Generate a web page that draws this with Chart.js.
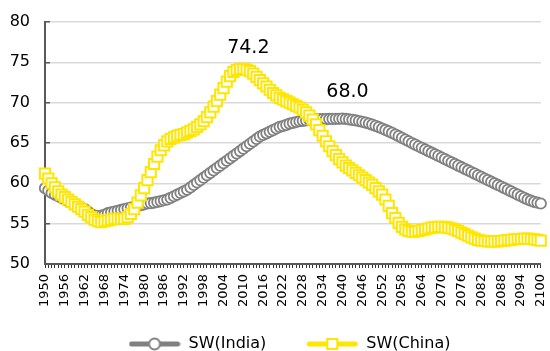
<!DOCTYPE html>
<html>
<head>
<meta charset="utf-8">
<script src="https://cdn.jsdelivr.net/npm/chart.js@4/dist/chart.umd.min.js"></script>
<style>
  html, body { margin: 0; padding: 0; background: #fff; }
  #wrap { width: 550px; height: 351px; position: relative; }
</style>
</head>
<body>
<div id="wrap"><canvas id="chart"></canvas></div>
<script>
// years 1950..2100, one point per year
var years = [];
for (var y = 1950; y <= 2100; y++) years.push(String(y));

var seriesNames = ['SW(India)', 'SW(China)'];

var swIndia = [
  59.4, 59.1, 58.8, 58.6, 58.4, 58.2, 58.0, 57.8, 57.6, 57.4,   // 1950-1959
  57.2, 57.0, 56.8, 56.5, 56.2, 56.0, 55.9, 56.0, 56.1, 56.3,   // 1960-1969
  56.4, 56.5, 56.6, 56.7, 56.8, 56.9, 57.0, 57.1, 57.2, 57.3,   // 1970-1979
  57.4, 57.5, 57.55, 57.6, 57.7, 57.8, 57.9, 58.0, 58.2, 58.4,  // 1980-1989
  58.6, 58.8, 59.0, 59.2, 59.5, 59.8, 60.1, 60.4, 60.7, 61.0,   // 1990-1999
  61.3, 61.6, 61.9, 62.2, 62.5, 62.8, 63.1, 63.4, 63.7, 64.0,   // 2000-2009
  64.3, 64.6, 64.9, 65.2, 65.5, 65.8, 66.0, 66.2, 66.4, 66.6,   // 2010-2019
  66.8, 67.0, 67.1, 67.25, 67.4, 67.5, 67.6, 67.7, 67.75, 67.8, // 2020-2029
  67.85, 67.9, 67.92, 67.95, 67.96, 67.97, 67.98, 67.99, 68.0, 68.0, // 2030-2039
  68.02, 67.98, 67.93, 67.87, 67.8, 67.72, 67.63, 67.53, 67.41, 67.28, // 2040-2049
  67.13, 66.97, 66.8, 66.62, 66.44, 66.25, 66.05, 65.85, 65.64, 65.43, // 2050-2059
  65.22, 65.0, 64.8, 64.6, 64.4, 64.2, 64.0, 63.8, 63.6, 63.4,  // 2060-2069
  63.2, 63.0, 62.8, 62.6, 62.4, 62.2, 62.0, 61.8, 61.6, 61.4,   // 2070-2079
  61.2, 61.0, 60.8, 60.6, 60.4, 60.2, 60.0, 59.8, 59.6, 59.4,   // 2080-2089
  59.2, 59.0, 58.8, 58.6, 58.4, 58.2, 58.0, 57.85, 57.7, 57.6,  // 2090-2099
  57.5                                                          // 2100
];

var swChina = [
  61.2, 60.6, 60.0, 59.5, 59.0, 58.6, 58.3, 58.0, 57.7, 57.4,   // 1950-1959
  57.1, 56.8, 56.5, 56.1, 55.8, 55.5, 55.3, 55.2, 55.3, 55.4,   // 1960-1969
  55.5, 55.6, 55.6, 55.6, 55.6, 55.8, 56.2, 56.8, 57.6, 58.5,   // 1970-1979
  59.4, 60.4, 61.4, 62.4, 63.3, 64.1, 64.7, 65.2, 65.5, 65.7,   // 1980-1989
  65.9, 66.0, 66.1, 66.3, 66.5, 66.7, 67.0, 67.3, 67.7, 68.2,   // 1990-1999
  68.8, 69.5, 70.2, 71.0, 71.8, 72.6, 73.3, 73.8, 74.05, 74.15, // 2000-2009
  74.2, 74.1, 73.9, 73.6, 73.2, 72.8, 72.4, 72.0, 71.6, 71.2,   // 2010-2019
  70.9, 70.6, 70.4, 70.2, 70.0, 69.8, 69.6, 69.4, 69.1, 68.8,   // 2020-2029
  68.4, 67.9, 67.3, 66.6, 65.9, 65.2, 64.6, 64.0, 63.5, 63.0,   // 2030-2039
  62.6, 62.2, 61.9, 61.6, 61.3, 61.0, 60.7, 60.4, 60.1, 59.8,   // 2040-2049
  59.4, 59.0, 58.6, 58.0, 57.2, 56.3, 55.7, 55.1, 54.6, 54.3,   // 2050-2059
  54.1, 54.0, 54.0, 54.1, 54.2, 54.3, 54.4, 54.5, 54.55, 54.6,  // 2060-2069
  54.6, 54.55, 54.5, 54.4, 54.25, 54.1, 53.9, 53.7, 53.5, 53.3, // 2070-2079
  53.15, 53.0, 52.9, 52.85, 52.8, 52.8, 52.8, 52.8, 52.85, 52.9, // 2080-2089
  52.95, 53.0, 53.05, 53.1, 53.1, 53.15, 53.15, 53.1, 53.05, 53.0, // 2090-2099
  52.9                                                          // 2100
];

var yTicks = [50, 55, 60, 65, 70, 75, 80];

var GRAY = '#808080';
var YELLOW = '#FFE600';

Chart.defaults.font.family = '"DejaVu Sans", Verdana, sans-serif';
Chart.defaults.color = '#000';

// legend swatch: thick line with the marker in the middle (Excel style)
function legendIcon(color, shape) {
  var c = document.createElement('canvas');
  c.width = 52; c.height = 16;
  var g = c.getContext('2d');
  g.strokeStyle = color;
  g.lineWidth = 5;
  g.lineCap = 'round';
  g.beginPath(); g.moveTo(3, 8); g.lineTo(49, 8); g.stroke();
  g.fillStyle = '#fff';
  g.lineWidth = 2;
  if (shape === 'circle') {
    g.beginPath(); g.arc(26, 8, 5.5, 0, Math.PI * 2); g.fill(); g.stroke();
  } else {
    g.fillRect(21, 3, 10, 10); g.strokeRect(21, 3, 10, 10);
  }
  return c;
}

// value label above each series' peak
var peakLift = [22, 16];
var peakLabels = {
  id: 'peakLabels',
  afterDatasetsDraw: function (chart) {
    var ctx = chart.ctx;
    chart.data.datasets.forEach(function (ds, i) {
      var max = Math.max.apply(null, ds.data);
      var idx = ds.data.indexOf(max);
      var pt = chart.getDatasetMeta(i).data[idx];
      ctx.save();
      ctx.font = '19px "DejaVu Sans"';
      ctx.fillStyle = '#000';
      ctx.textAlign = 'center';
      ctx.textBaseline = 'alphabetic';
      ctx.fillText(max.toFixed(1), pt.x + 5, pt.y - peakLift[i]);
      ctx.restore();
    });
  }
};

// nudge the legend box: a bit right of centre, items pulled up under the tick labels
var legendNudge = {
  id: 'legendNudge',
  afterLayout: function (chart) {
    var lg = chart.legend;
    lg.left += 36;
    lg.top -= 13;
    lg.bottom = chart.height;
  }
};

new Chart(document.getElementById('chart'), {
  type: 'line',
  data: {
    labels: years,
    datasets: [
      {
        label: seriesNames[0],
        data: swIndia,
        order: 1,
        borderColor: GRAY,
        borderWidth: 4,
        pointStyle: 'circle',
        pointRadius: 5.2,
        pointBorderWidth: 1.8,
        pointBackgroundColor: '#fff',
        pointBorderColor: GRAY,
        clip: false
      },
      {
        label: seriesNames[1],
        data: swChina,
        order: 0,
        borderColor: YELLOW,
        borderWidth: 4,
        pointStyle: 'rect',
        pointRadius: 7.2,
        pointBorderWidth: 2,
        pointBackgroundColor: '#fff',
        pointBorderColor: YELLOW,
        clip: false
      }
    ]
  },
  options: {
    responsive: true,
    maintainAspectRatio: false,
    animation: false,
    layout: { padding: { top: 22, left: 0, right: 7, bottom: 0 } },
    plugins: {
      tooltip: { enabled: false },
      legend: {
        position: 'bottom',
        maxHeight: 42,
        labels: {
          usePointStyle: true,
          pointStyleWidth: 52,
          padding: 40,
          color: '#000',
          font: { size: 16 },
          sort: function (a, b) { return a.datasetIndex - b.datasetIndex; },
          generateLabels: function (chart) {
            var items = Chart.defaults.plugins.legend.labels.generateLabels(chart);
            items.forEach(function (it) {
              it.pointStyle = it.datasetIndex === 0 ? legendIcon(GRAY, 'circle') : legendIcon(YELLOW, 'rect');
            });
            return items;
          }
        }
      }
    },
    scales: {
      x: {
        type: 'category',
        offset: false,
        grid: { drawOnChartArea: false, drawTicks: true, tickLength: 4, tickColor: '#333', lineWidth: 1 },
        border: { color: '#595959', width: 2 },
        ticks: {
          autoSkip: false,
          maxRotation: 90,
          minRotation: 90,
          padding: 6,
          font: { size: 13 },
          color: '#000',
          callback: function (v, i) { return i % 6 === 0 ? years[i] : ''; }
        },
        afterFit: function (s) {
          s.paddingLeft = 0;
          s.paddingRight = 0;
          s.height = s.chart.height - s.chart.legend.height - 264;
        }
      },
      y: {
        min: 50,
        max: 80,
        grid: { color: '#d9d9d9', lineWidth: 1.5, tickLength: -5, tickColor: '#595959' },
        border: { color: '#595959', width: 2 },
        afterBuildTicks: function (s) { s.ticks = yTicks.map(function (v) { return { value: v }; }); },
        ticks: { padding: 20, font: { size: 16 }, color: '#000' },
        afterFit: function (s) {
          s.width = 45;
          s.paddingTop = 0;
          s.paddingBottom = 0;
        }
      }
    }
  },
  plugins: [peakLabels, legendNudge]
});
</script>
</body>
</html>
